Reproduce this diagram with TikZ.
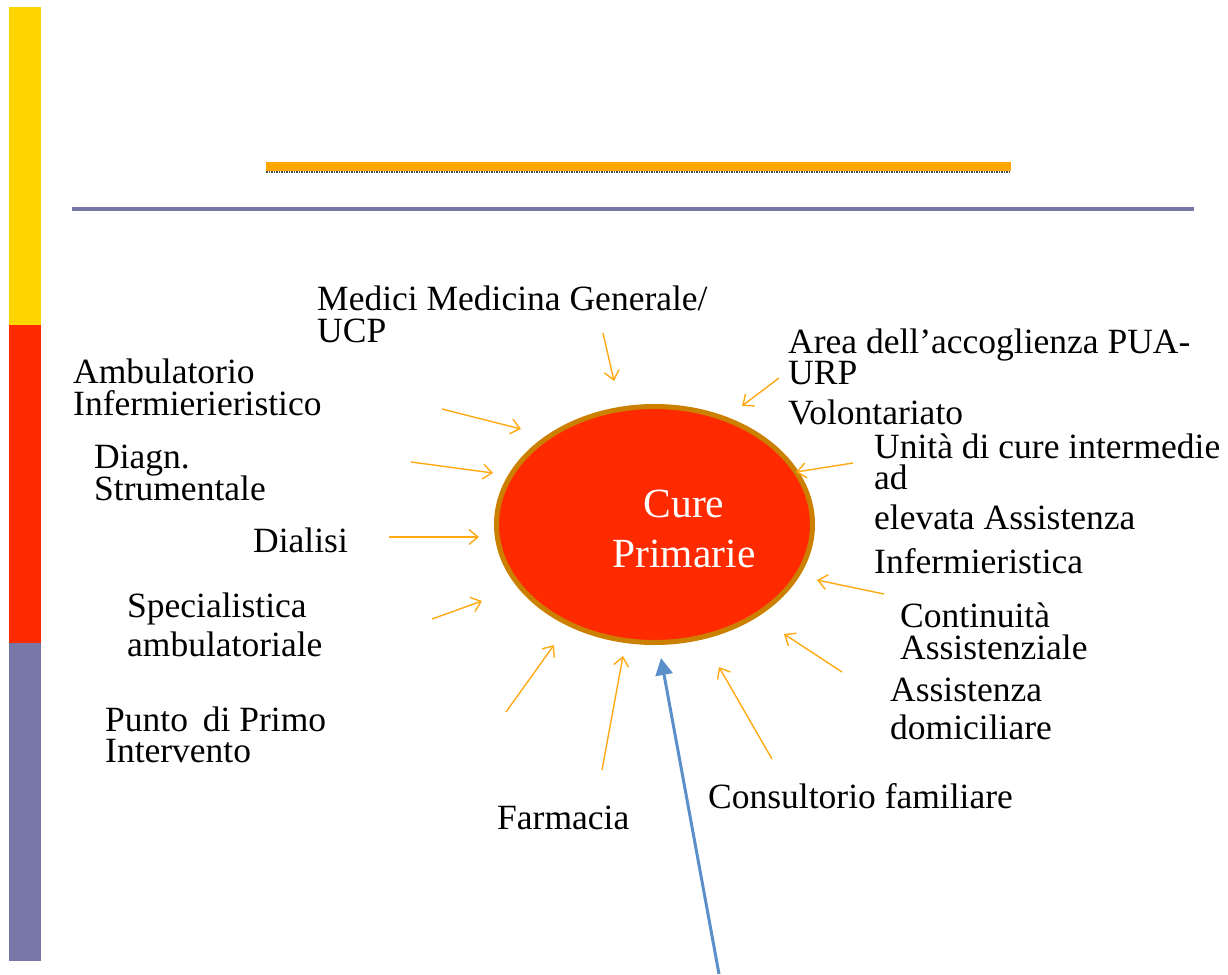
\documentclass[tikz,border=0pt]{standalone}
\usepackage{fontspec}
\setmainfont{Liberation Serif}
\usetikzlibrary{arrows.meta,shapes.geometric}
\definecolor{barYellow}{RGB}{255,213,0}
\definecolor{barRed}{RGB}{255,42,0}
\definecolor{barPurple}{RGB}{120,120,168}
\definecolor{barOrange}{RGB}{255,167,0}
\definecolor{arrOrange}{RGB}{255,170,20}
\definecolor{rimBrown}{RGB}{204,128,0}
\definecolor{discRed}{RGB}{255,42,0}
\definecolor{arrBlue}{RGB}{91,143,201}
\tikzset{
  lbl/.style={anchor=base west, inner sep=0pt, text height=22pt, text depth=6pt, font=\fontsize{35.5}{32}\selectfont, text=black},
  ctr/.style={anchor=base, inner sep=0pt, font=\fontsize{41.5}{44}\selectfont, text=white},
  feed/.style={draw=arrOrange, line width=1.4pt, -{Straight Barb[length=9pt,width=15pt,line width=1.4pt]}},
  mainarr/.style={draw=arrBlue, line width=3pt, -{Triangle[length=17pt,width=17pt]}}
}
\begin{document}
\begin{tikzpicture}[x=1pt,y=-1pt]
\useasboundingbox (0,0) rectangle (1228,974);
\fill[white] (0,0) rectangle (1228,974);
% left bar
\fill[barYellow] (9,7) rectangle (41,325);
\fill[barRed] (9,325) rectangle (41,643);
\fill[barPurple] (9,643) rectangle (41,961);
% title lines
\fill[barOrange] (266,162) rectangle (1011,171);
\draw[black!70, line width=1.5pt, dash pattern=on 1.5pt off 1pt] (266,172) -- (1011,172);
\fill[barPurple] (72,207) rectangle (1194,211);
% central disc
\node[draw=rimBrown, fill=discRed, line width=5pt, ellipse, minimum width=316pt, minimum height=236pt, inner sep=0pt] (cp) at (654.5,524.5) {};
\node[ctr] (cure) at (684,517) {Cure};
\node[ctr] (prim) at (684,567) {Primarie};
% labels
\node[lbl] (med1) at (317,310) {Medici Medicina Generale/};
\node[lbl] (med2) at (317,342) {UCP};
\node[lbl] (area1) at (788,353) {Area dell’accoglienza PUA-};
\node[lbl] (area2) at (788,384) {URP};
\node[lbl] (vol) at (788,424) {Volontariato};
\node[lbl] (uni1) at (874,458) {Unità di cure intermedie};
\node[lbl] (uni2) at (874,489) {ad};
\node[lbl] (uni3) at (874,529) {elevata Assistenza};
\node[lbl] (uni4) at (874,573) {Infermieristica};
\node[lbl] (con1) at (900,627) {Continuità};
\node[lbl] (con2) at (900,659) {Assistenziale};
\node[lbl] (dom1) at (890,701) {Assistenza};
\node[lbl] (dom2) at (890,739) {domiciliare};
\node[lbl] (cons) at (708,808) {Consultorio familiare};
\node[lbl] (farm) at (497,829) {Farmacia};
\node[lbl] (amb1) at (73,383) {Ambulatorio};
\node[lbl] (amb2) at (73,415) {Infermierieristico};
\node[lbl] (dia1) at (94,468) {Diagn.};
\node[lbl] (dia2) at (94,500) {Strumentale};
\node[lbl] (dial) at (253,552) {Dialisi};
\node[lbl] (spe1) at (127,617) {Specialistica};
\node[lbl] (spe2) at (127,656) {ambulatoriale};
\node[lbl] (pun1) at (105,731) {Punto\hspace{6pt} di Primo};
\node[lbl] (pun2) at (105,762) {Intervento};
% arrow end points
\coordinate (aMedS) at (603,333);  \coordinate (aMedE) at (614,381);
\coordinate (aAreS) at (779,378);  \coordinate (aAreE) at (742,406);
\coordinate (aUniS) at (853,463);  \coordinate (aUniE) at (796,472);
\coordinate (aInfS) at (884,594);  \coordinate (aInfE) at (817,580);
\coordinate (aDomS) at (842,672);  \coordinate (aDomE) at (784,634);
\coordinate (aConS) at (772,759);  \coordinate (aConE) at (719,667);
\coordinate (aFarS) at (602,770);  \coordinate (aFarE) at (623,656);
\coordinate (aPunS) at (506,712);  \coordinate (aPunE) at (554,645);
\coordinate (aSpeS) at (432,619);  \coordinate (aSpeE) at (482,601);
\coordinate (aDiaS) at (389,537);  \coordinate (aDiaE) at (479,537);
\coordinate (aStrS) at (411,462);  \coordinate (aStrE) at (493,473);
\coordinate (aAmbS) at (442,409);  \coordinate (aAmbE) at (521,429);
\coordinate (aBluS) at (719,974);  \coordinate (aBluE) at (661,658);
% arrows
\draw[feed] (aMedS) -- (aMedE);
\draw[feed] (aAreS) -- (aAreE);
\draw[feed] (aUniS) -- (aUniE);
\draw[feed] (aInfS) -- (aInfE);
\draw[feed] (aDomS) -- (aDomE);
\draw[feed] (aConS) -- (aConE);
\draw[feed] (aFarS) -- (aFarE);
\draw[feed] (aPunS) -- (aPunE);
\draw[feed] (aSpeS) -- (aSpeE);
\draw[feed] (aDiaS) -- (aDiaE);
\draw[feed] (aStrS) -- (aStrE);
\draw[feed] (aAmbS) -- (aAmbE);
\draw[mainarr] (aBluS) -- (aBluE);
\end{tikzpicture}
\end{document}
